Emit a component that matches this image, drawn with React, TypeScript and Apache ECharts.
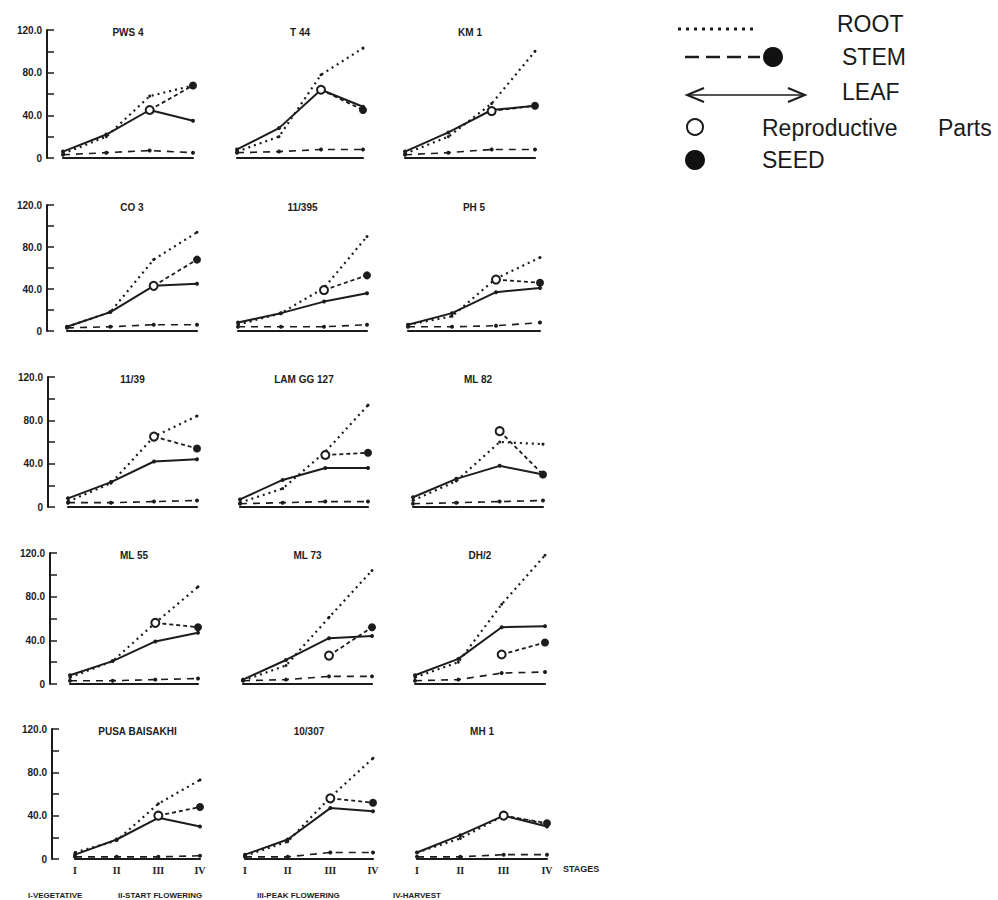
import React, { useEffect, useRef } from "react";
import * as echarts from "echarts";

// ---------- data ----------
const stages = ["I", "II", "III", "IV"];
const titles = [
  "PWS 4", "T 44", "KM 1",
  "CO 3", "11/395", "PH 5",
  "11/39", "LAM GG 127", "ML 82",
  "ML 55", "ML 73", "DH/2",
  "PUSA BAISAKHI", "10/307", "MH 1",
];
const rootValues = [
  [4, 20, 58, 68], [6, 20, 78, 103], [4, 20, 51, 100],
  [4, 18, 68, 94], [6, 17, 41, 90], [6, 14, 50, 70],
  [5, 22, 65, 84], [4, 17, 51, 94], [6, 24, 60, 58],
  [6, 21, 56, 89], [3, 17, 61, 104], [6, 20, 73, 118],
  [6, 17, 51, 73], [3, 16, 57, 93], [6, 19, 40, 32],
];
const leafValues = [
  [6, 22, 45, 35], [8, 28, 64, 48], [6, 24, 45, 49],
  [4, 18, 43, 45], [8, 17, 28, 36], [6, 17, 37, 41],
  [8, 23, 42, 44], [7, 25, 36, 36], [9, 26, 38, 30],
  [8, 21, 39, 47], [4, 22, 42, 44], [8, 23, 52, 53],
  [4, 18, 38, 30], [4, 18, 47, 44], [6, 22, 40, 30],
];
const stemValues = [
  [3, 5, 7, 5], [5, 6, 8, 8], [3, 5, 8, 8],
  [3, 4, 6, 6], [4, 4, 4, 6], [4, 4, 5, 8],
  [4, 4, 5, 6], [3, 4, 5, 5], [3, 4, 5, 6],
  [3, 3, 4, 5], [3, 4, 7, 7], [3, 4, 10, 11],
  [2, 2, 2, 3], [2, 2, 6, 6], [2, 2, 4, 4],
];
const reproValues = [45, 64, 44, 43, 39, 49, 65, 48, 70, 56, 26, 27, 40, 56, 40];
const seedValues = [68, 45, 49, 68, 53, 46, 54, 50, 30, 52, 52, 38, 48, 52, 33];
const yTicks = [0, 40, 80, 120];
const footnotes = ["I-VEGETATIVE", "II-START FLOWERING", "III-PEAK FLOWERING", "IV-HARVEST"];

// ---------- layout (pixel positions of the scanned panels) ----------
const rowY = [
  [30, 158], [205, 331], [377, 507], [553, 684], [729, 859],
];
const colX = [
  [[63, 193], [237, 363], [405, 535]],
  [[67, 197], [238, 367], [408, 540]],
  [[68, 197], [240, 368], [413, 543]],
  [[70, 198], [243, 372], [415, 545]],
  [[75, 200], [245, 373], [417, 547]],
];
const yAxisOffset = [16, 20, 20, 20, 23];
const footX = [28, 118, 257, 393];

const INK = "#1c1c1c";

export default function App() {
  const ref = useRef<HTMLDivElement>(null);
  useEffect(() => {
    if (!ref.current) return;
    const chart = echarts.init(ref.current, undefined, { renderer: "svg" });
    const grids: any[] = [];
    const xAxes: any[] = [];
    const yAxes: any[] = [];
    const series: any[] = [];
    const graphics: any[] = [];

    for (let i = 0; i < 15; i++) {
      const r = Math.floor(i / 3);
      const c = i % 3;
      const [x0, x1] = colX[r][c];
      const [yTop, yBot] = rowY[r];
      const bottomRow = r === 4;
      grids.push({ left: x0, top: yTop, width: x1 - x0, height: yBot - yTop, containLabel: false });
      xAxes.push({
        type: "category",
        gridIndex: i,
        data: stages,
        boundaryGap: false,
        axisLine: { show: true, lineStyle: { color: INK, width: 2.2 } },
        axisTick: { show: false },
        axisLabel: {
          show: bottomRow,
          margin: 6,
          color: INK,
          fontSize: 10,
          fontWeight: "bold",
          fontFamily: "Liberation Serif",
        },
        splitLine: { show: false },
      });
      yAxes.push({
        type: "value",
        gridIndex: i,
        min: 0,
        max: 120,
        interval: 20,
        show: c === 0,
        offset: yAxisOffset[r],
        axisLine: { show: true, lineStyle: { color: INK, width: 2 } },
        axisTick: { show: true, inside: true, length: 7, lineStyle: { color: INK, width: 1.5 } },
        axisLabel: {
          margin: 5,
          color: INK,
          fontSize: 10,
          fontWeight: "bold",
          fontFamily: "Liberation Sans",
          formatter: (v: number) => (yTicks.includes(v) ? (v === 0 ? "0" : v.toFixed(1)) : ""),
        },
        splitLine: { show: false },
      });
      series.push({
        type: "line",
        name: "ROOT",
        xAxisIndex: i,
        yAxisIndex: i,
        data: rootValues[i],
        symbol: "circle",
        symbolSize: 3,
        itemStyle: { color: INK },
        lineStyle: { color: INK, width: 2.2, type: [2, 4] },
        z: 3,
      });
      series.push({
        type: "line",
        name: "LEAF",
        xAxisIndex: i,
        yAxisIndex: i,
        data: leafValues[i],
        symbol: "circle",
        symbolSize: 4,
        itemStyle: { color: INK },
        lineStyle: { color: INK, width: 2 },
        z: 3,
      });
      series.push({
        type: "line",
        name: "STEM",
        xAxisIndex: i,
        yAxisIndex: i,
        data: stemValues[i],
        symbol: "circle",
        symbolSize: 4,
        itemStyle: { color: INK },
        lineStyle: { color: INK, width: 1.6, type: [7, 6] },
        z: 3,
      });
      series.push({
        type: "line",
        name: "REPRO",
        xAxisIndex: i,
        yAxisIndex: i,
        data: [
          "-",
          "-",
          { value: reproValues[i], symbol: "emptyCircle", symbolSize: 8 },
          { value: seedValues[i], symbol: "circle", symbolSize: 8 },
        ],
        itemStyle: { color: INK, borderWidth: 1.8 },
        lineStyle: { color: INK, width: 1.8, type: [4, 3] },
        z: 4,
      });
      graphics.push({
        type: "text",
        x: (x0 + x1) / 2,
        y: yTop + 2,
        style: {
          text: titles[i],
          fontSize: 10,
          fontWeight: "bold",
          fontFamily: "Liberation Sans",
          fill: INK,
          align: "center",
          verticalAlign: "middle",
        },
      });
    }

    // STAGES + footnotes
    graphics.push({
      type: "text",
      x: 563,
      y: 869,
      style: { text: "STAGES", fontSize: 9, fontWeight: "bold", fontFamily: "Liberation Sans", fill: INK, verticalAlign: "middle" },
    });
    footnotes.forEach((t, k) =>
      graphics.push({
        type: "text",
        x: footX[k],
        y: 895,
        style: { text: t, fontSize: 8, fontWeight: "bold", fontFamily: "Liberation Sans", fill: INK, verticalAlign: "middle" },
      })
    );

    // Legend
    const lt = (text: string, x: number, y: number) => ({
      type: "text",
      x,
      y,
      style: { text, fontSize: 23, fontFamily: "Liberation Sans", fill: "#1a1a1a", verticalAlign: "middle" },
    });
    graphics.push(
      { type: "line", shape: { x1: 678, y1: 29, x2: 753, y2: 29 }, style: { stroke: INK, lineWidth: 3, lineDash: [3, 5] } },
      lt("ROOT", 837, 24),
      { type: "line", shape: { x1: 685, y1: 57, x2: 760, y2: 57 }, style: { stroke: INK, lineWidth: 2.5, lineDash: [14, 7] } },
      { type: "circle", shape: { cx: 773, cy: 57, r: 10 }, style: { fill: "#111" } },
      lt("STEM", 842, 57),
      { type: "line", shape: { x1: 688, y1: 95, x2: 804, y2: 95 }, style: { stroke: INK, lineWidth: 1.5 } },
      { type: "polyline", shape: { points: [[704, 88], [687, 95], [704, 102]] }, style: { stroke: INK, lineWidth: 2, fill: null } },
      { type: "polyline", shape: { points: [[788, 88], [805, 95], [788, 102]] }, style: { stroke: INK, lineWidth: 2, fill: null } },
      lt("LEAF", 842, 92),
      { type: "circle", shape: { cx: 695, cy: 127, r: 8 }, style: { fill: "#fff", stroke: INK, lineWidth: 2 } },
      lt("Reproductive", 762, 128),
      lt("Parts", 938, 128),
      { type: "circle", shape: { cx: 695, cy: 160, r: 10 }, style: { fill: "#111" } },
      lt("SEED", 762, 160)
    );

    chart.setOption({
      animation: false,
      backgroundColor: "#ffffff",
      grid: grids,
      xAxis: xAxes,
      yAxis: yAxes,
      series,
      graphic: graphics,
    });
    return () => chart.dispose();
  }, []);
  return <div ref={ref} style={{ position: "absolute", left: 0, top: 0, width: 998, height: 900 }} />;
}
